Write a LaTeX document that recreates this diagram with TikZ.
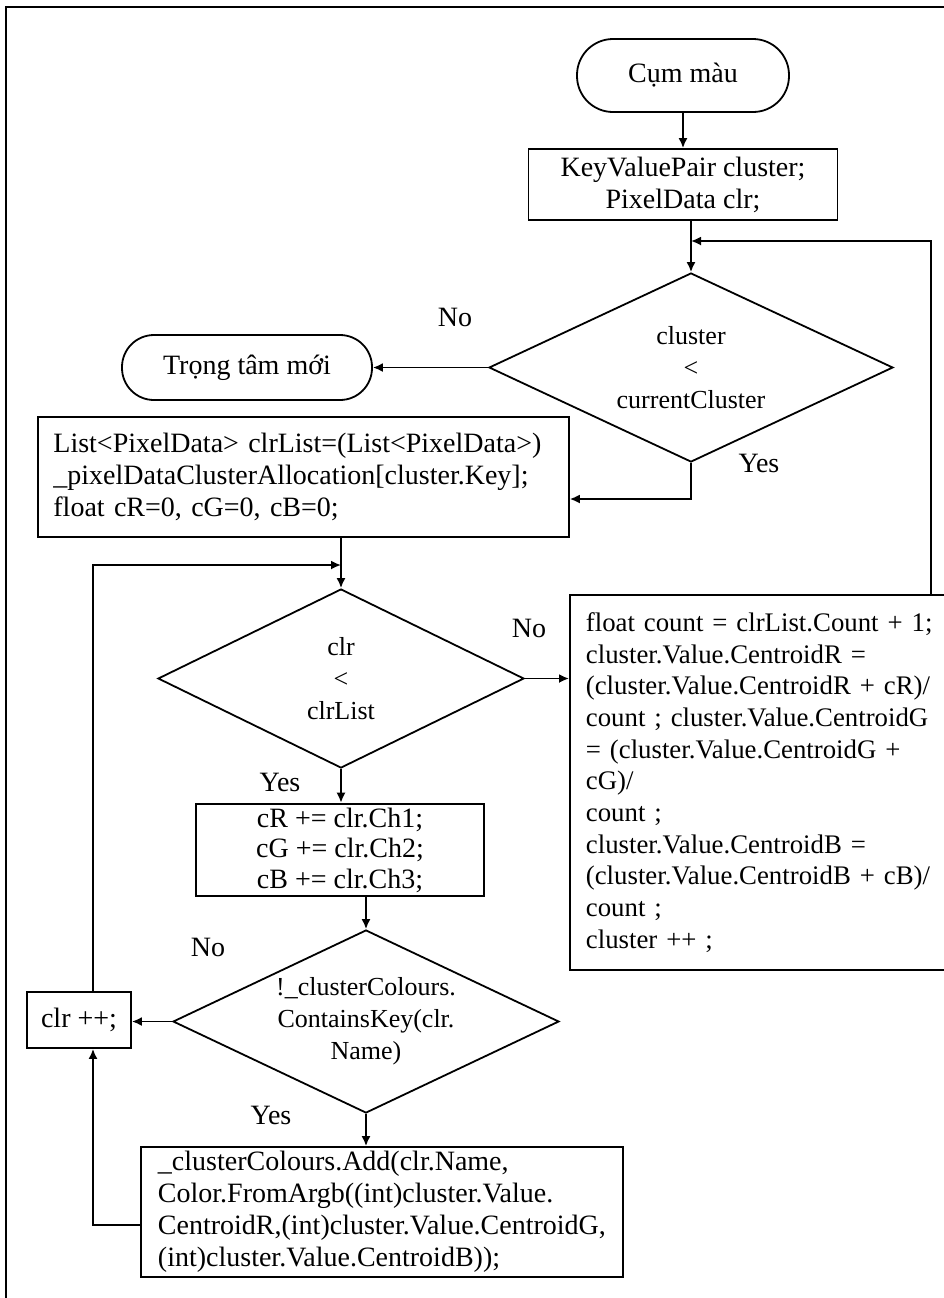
\documentclass[tikz,border=0pt]{standalone}
\usepackage{fontspec}
\setmainfont{Liberation Serif}
\usepackage{tikz}
\usetikzlibrary{arrows.meta,positioning,calc,shapes.geometric}
\tikzset{
  >={Latex[length=5pt,width=4.5pt]},
  frm/.style={draw=black,line width=0.9pt},
  box/.style={frm,rectangle,inner sep=2pt,font=\fontsize{14}{16}\selectfont,align=center},
  lbox/.style={box,align=left,inner xsep=8pt},
  term/.style={frm,rectangle,inner sep=2pt,font=\fontsize{14}{16}\selectfont},
  cond/.style={frm,diamond,inner sep=0pt,font=\fontsize{13}{16}\selectfont,align=center},
  arr/.style={->,draw=black,line width=0.9pt},
  lab/.style={font=\fontsize{14}{16}\selectfont},
}
\begin{document}
\begin{tikzpicture}[x=0.5pt,y=-0.5pt]
\useasboundingbox (0,0) rectangle (944,1298);
\draw[frm] (6,7) rectangle (1000,1340);

% main column
\node[term,minimum width=106pt,minimum height=36.5pt,rounded corners=18pt] (start) at (683,75.5) {Cụm màu};
\node[box,minimum width=154.5pt,minimum height=35.5pt] (decl) at (683,184.5) {KeyValuePair cluster;\\PixelData clr;};
\node[cond,minimum width=202pt,minimum height=94.5pt,aspect=2.1] (ifcl) at (691,367.5) {cluster\\<\\currentCluster};
\node[term,minimum width=125pt,minimum height=32.5pt,rounded corners=16pt] (done) at (247,367.5) {Trọng tâm mới};
\node[lbox,anchor=west,text width=250pt,inner xsep=7.75pt,minimum height=60pt] (init) at (37,477)
  {List<PixelData> clrList=(List<PixelData>)\\ \_pixelDataClusterAllocation[cluster.Key];\\float cR=0, cG=0, cB=0;};

% inner loop
\node[cond,minimum width=183pt,minimum height=89.5pt,aspect=2.05] (ifclr) at (341,678.5) {clr\\<\\clrList};
\node[lbox,anchor=west,text width=190pt,minimum height=187.5pt,font=\fontsize{13.4}{15.85}\selectfont] (upd) at (569,782.5)
  {float count = clrList.Count + 1;\\cluster.Value.CentroidR =\\(cluster.Value.CentroidR + cR)/\\count ; cluster.Value.CentroidG\\= (cluster.Value.CentroidG +\\cG)/\\count ;\\cluster.Value.CentroidB =\\(cluster.Value.CentroidB + cB)/\\count ;\\cluster ++ ;};
\node[box,minimum width=144pt,minimum height=46pt,font=\fontsize{14}{15.25}\selectfont] (acc) at (340,850) {cR += clr.Ch1;\\cG += clr.Ch2;\\cB += clr.Ch3;};
\node[cond,minimum width=193pt,minimum height=91.5pt,aspect=2.1] (ifkey) at (366,1021.5) {!\_clusterColours.\\ContainsKey(clr.\\Name)};
\node[box,minimum width=52pt,minimum height=28pt] (inc) at (79,1020) {clr ++;};
\node[lbox,anchor=west,minimum width=241pt,minimum height=65pt,inner xsep=8.5pt] (add) at (140,1212)
  {\_clusterColours.Add(clr.Name,\\Color.FromArgb((int)cluster.Value.\\CentroidR,(int)cluster.Value.CentroidG,\\(int)cluster.Value.CentroidB));};

\coordinate (lx) at (93,565);
\coordinate (rx) at (931,241);

\draw[arr] (start.south) -- (decl.north);
\draw[arr] (ifcl.north |- decl.south) -- (ifcl.north);
\draw[arr] (rx |- upd.north) |- (ifcl.north |- rx);
\draw[arr] (ifcl.west) -- (done.east);
\draw[arr] (ifcl.south) |- ($(init.east)+(0,22)$);
\draw[arr] (ifclr.north |- init.south) -- (ifclr.north);
\draw[arr] (ifclr.east) -- (ifclr.east -| upd.west);
\draw[arr] (ifclr.south) -- (ifclr.south |- acc.north);
\draw[arr] (ifkey.north |- acc.south) -- (ifkey.north);
\draw[arr] (ifkey.west) -- (ifkey.west -| inc.east);
\draw[arr] (ifkey.south) -- (ifkey.south |- add.north);
\draw[arr] ($(add.west)+(0,13)$) -| (inc.south -| lx);
\draw[arr] (inc.north -| lx) |- (ifclr.north |- lx);

\foreach \t/\x/\y [count=\i] in {No/455/317,Yes/759/463,No/529/628,Yes/280/782,No/208/947,Yes/271/1115}
  \node[lab] (lab\i) at (\x,\y) {\t};
\end{tikzpicture}
\end{document}
